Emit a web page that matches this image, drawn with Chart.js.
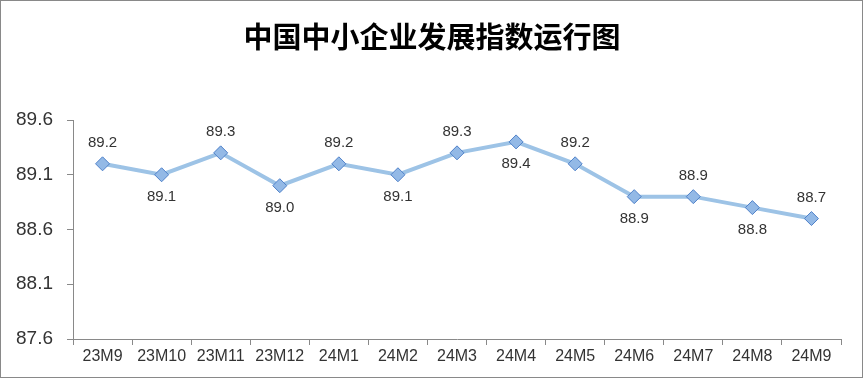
<!DOCTYPE html>
<html>
<head>
<meta charset="utf-8">
<script src="https://cdn.jsdelivr.net/npm/chart.js@4.4.1/dist/chart.umd.min.js"></script>
<style>
  body { margin: 0; background: #fff; }
  #wrap { width: 865px; height: 380px; }
</style>
</head>
<body>
<div id="wrap"><canvas id="indexChart"></canvas></div>
<script>
// Data
const chartTitle = '中国中小企业发展指数运行图';
const months = ['23M9', '23M10', '23M11', '23M12', '24M1', '24M2', '24M3', '24M4', '24M5', '24M6', '24M7', '24M8', '24M9'];
const indexValues = [89.2, 89.1, 89.3, 89.0, 89.2, 89.1, 89.3, 89.4, 89.2, 88.9, 88.9, 88.8, 88.7];
const labelSide = ['up', 'down', 'up', 'down', 'up', 'down', 'up', 'down', 'up', 'down', 'up', 'down', 'up'];
const yTicks = [87.6, 88.1, 88.6, 89.1, 89.6];

const textColor = '#333333';
const axisColor = '#898989';

// value labels above / below each point
const pointLabels = {
  id: 'pointLabels',
  afterDatasetsDraw(chart) {
    const ctx = chart.ctx;
    const meta = chart.getDatasetMeta(0);
    ctx.save();
    ctx.font = '15px "Liberation Sans", Arial, sans-serif';
    ctx.fillStyle = textColor;
    ctx.textAlign = 'center';
    ctx.textBaseline = 'middle';
    meta.data.forEach(function (pt, i) {
      const dy = labelSide[i] === 'up' ? -21 : 22;
      ctx.fillText(indexValues[i].toFixed(1), pt.x, pt.y + dy);
    });
    ctx.restore();
  }
};

// title (centred on the whole picture) and outer frame
const frame = {
  id: 'frame',
  afterDraw(chart) {
    const ctx = chart.ctx;
    ctx.save();
    ctx.font = 'bold 29px "Noto Sans CJK SC", sans-serif';
    ctx.fillStyle = '#000000';
    ctx.textAlign = 'center';
    ctx.textBaseline = 'middle';
    ctx.fillText(chartTitle, 432, 37);
    ctx.strokeStyle = axisColor;
    ctx.lineWidth = 1;
    ctx.strokeRect(0.5, 0.5, 862, 377);
    ctx.restore();
  }
};

new Chart(document.getElementById('indexChart'), {
  type: 'line',
  data: {
    labels: months,
    datasets: [{
      data: indexValues,
      borderColor: '#9DC3E6',
      borderWidth: 4,
      pointStyle: 'rectRot',
      pointRadius: 7,
      pointHoverRadius: 7,
      pointBackgroundColor: '#93B9E6',
      pointBorderColor: '#4F81C9',
      pointBorderWidth: 1,
      tension: 0
    }]
  },
  options: {
    responsive: true,
    maintainAspectRatio: false,
    animation: false,
    layout: {
      padding: { left: 0, right: 24, top: 120, bottom: 0 }
    },
    plugins: {
      legend: { display: false },
      tooltip: { enabled: false },
      title: { display: false }
    },
    scales: {
      x: {
        offset: true,
        grid: {
          offset: true,
          drawOnChartArea: false,
          drawTicks: true,
          tickLength: 6,
          color: axisColor
        },
        border: { display: true, color: axisColor, width: 1 },
        ticks: {
          color: textColor,
          padding: 2,
          maxRotation: 0,
          autoSkip: false,
          font: { family: '"Liberation Sans", Arial, sans-serif', size: 16 }
        },
        afterFit(scale) { scale.height = 41; }
      },
      y: {
        min: 87.6,
        max: 89.6,
        afterBuildTicks(scale) {
          scale.ticks = yTicks.map(function (v) { return { value: v }; });
        },
        grid: {
          drawOnChartArea: false,
          drawTicks: true,
          tickLength: 6,
          color: axisColor
        },
        border: { display: true, color: axisColor, width: 1 },
        ticks: {
          color: textColor,
          padding: 14,
          font: { family: '"Liberation Sans", Arial, sans-serif', size: 19 },
          callback: function (v) { return Number(v).toFixed(1); }
        },
        afterFit(scale) { scale.width = 73; }
      }
    }
  },
  plugins: [pointLabels, frame]
});
</script>
</body>
</html>
